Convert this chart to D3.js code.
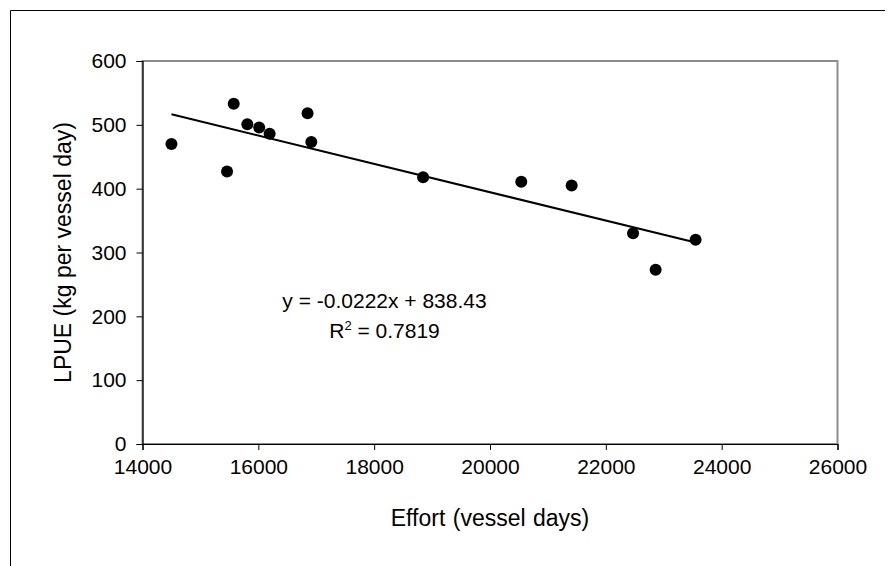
<!DOCTYPE html>
<html>
<head>
<meta charset="utf-8">
<script src="https://cdn.jsdelivr.net/npm/d3@7"></script>
<style>
  body { margin: 0; background: #fff; }
  text { font-family: "Liberation Sans", Arial, sans-serif; fill: #000; }
</style>
</head>
<body>
<div id="chart"></div>
<script>
// effort (vessel days) vs LPUE (kg per vessel day)
var effort = [14500, 15460, 15575, 15810, 16015, 16195, 16850, 16915, 18845, 20540, 21410, 22470, 22860, 23550]
var lpue = [470, 427, 533, 501, 496, 486, 518, 473, 418, 411, 405, 330, 273, 320]

var xTicks = [14000, 16000, 18000, 20000, 22000, 24000, 26000]
var yTicks = [0, 100, 200, 300, 400, 500, 600]

// linear trend from the chart
var slope = -0.0222
var intercept = 838.43
var equationLines = ["y = -0.0222x + 838.43", "R2 = 0.7819"]

const width = 890,
  height = 566

var svg = d3.select("#chart")
  .append("svg")
    .attr("width", width)
    .attr("height", height)

// outer chart border (left and top only visible)
svg.append("path")
  .attr("d", "M10.5," + height + "V10.5H885")
  .attr("fill", "none")
  .attr("stroke", "#000")
  .attr("stroke-width", 1)

var x = d3.scaleLinear().domain([14000, 26000]).range([142.5, 837.5])
var y = d3.scaleLinear().domain([0, 600]).range([444, 61])

// plot area border
svg.append("rect")
  .attr("x", x.range()[0])
  .attr("y", y(600))
  .attr("width", x.range()[1] - x.range()[0])
  .attr("height", y(0) - y(600))
  .attr("fill", "none")
  .attr("stroke", "#8c8c8c")
  .attr("stroke-width", 2)

var xAxis = svg.append("g")
  .attr("transform", `translate(0, ${y(0)})`)
  .call(d3.axisBottom(x).tickValues(xTicks).tickFormat(d3.format("d")).tickSize(6).tickPadding(9))

var yAxis = svg.append("g")
  .attr("transform", `translate(${x(14000)}, 0)`)
  .call(d3.axisLeft(y).tickValues(yTicks).tickSize(6).tickPadding(10))

svg.selectAll(".domain").attr("stroke", "#000").attr("stroke-width", 1.2)
svg.selectAll(".tick line").attr("stroke", "#000")
svg.selectAll(".tick text")
  .style("font-family", "Liberation Sans, Arial, sans-serif")
  .style("font-size", "21px")
  .attr("fill", "#000")

// trend line over the data range
var xMin = d3.min(effort), xMax = d3.max(effort)
svg.append("line")
  .attr("x1", x(xMin))
  .attr("y1", y(slope * xMin + intercept))
  .attr("x2", x(xMax))
  .attr("y2", y(slope * xMax + intercept))
  .attr("stroke", "#000")
  .attr("stroke-width", 2)

svg.selectAll("circle")
  .data(effort)
  .enter()
  .append("circle")
  .attr("cx", d => x(d))
  .attr("cy", (d, i) => y(lpue[i]))
  .attr("r", 6)
  .attr("fill", "#000")

// equation label
var eq = svg.append("text")
  .attr("text-anchor", "middle")
  .style("font-size", "21px")

eq.append("tspan")
  .attr("x", 384.5)
  .attr("y", 308)
  .text(equationLines[0])

var r2 = eq.append("tspan")
  .attr("x", 384.5)
  .attr("y", 338)
r2.append("tspan").text("R")
r2.append("tspan").attr("dy", -8).style("font-size", "13px").text("2")
r2.append("tspan").attr("dy", 8).text(equationLines[1].slice(2))

// axis titles
svg.append("text")
  .attr("x", x(20000))
  .attr("y", 526)
  .attr("text-anchor", "middle")
  .style("font-size", "23px")
  .style("word-spacing", "1px")
  .text("Effort (vessel days)")

svg.append("text")
  .attr("transform", `translate(71, ${(y(0) + y(600)) / 2}) rotate(-90)`)
  .attr("text-anchor", "middle")
  .style("font-size", "23px")
  .text("LPUE (kg per vessel day)")
</script>
</body>
</html>
